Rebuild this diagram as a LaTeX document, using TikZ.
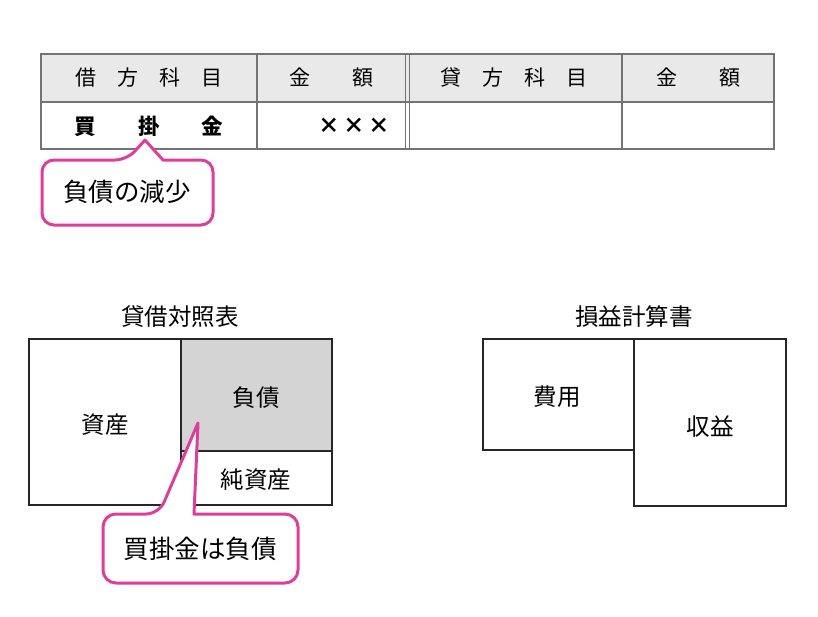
\documentclass[tikz,border=0pt]{standalone}
\usepackage{fontspec}
\setmainfont{Noto Sans CJK JP}
\usetikzlibrary{positioning}
\definecolor{callpink}{RGB}{222,62,155}
\definecolor{headgray}{RGB}{233,233,233}
\definecolor{liabgray}{RGB}{212,212,212}
\definecolor{rulegray}{RGB}{115,115,115}

\begin{document}
\begin{tikzpicture}[x=1pt,y=-1pt,
 cell/.style={draw=rulegray,line width=1.3pt},
 head/.style={font=\fontsize{21}{21}\selectfont,inner sep=0pt},
 entry/.style={font=\fontsize{21.5}{21.5}\selectfont\bfseries,inner sep=0pt},
 boxline/.style={draw=black!85,line width=1.5pt},
 lbl/.style={font=\fontsize{23.5}{23.5}\selectfont,inner sep=0pt},
 callout/.style={draw=callpink,line width=3pt,fill=white,line join=round},
 calltext/.style={font=\fontsize{25.5}{25.5}\selectfont,inner sep=0pt}]

\useasboundingbox (0,0) rectangle (818,616);

% journal entry
\fill[headgray] (41,54) rectangle (774,102);
\draw[cell] (41,54) rectangle (774,149);
\draw[cell] (41,102) -- (774,102);
\draw[cell] (257,54) -- (257,149);
\draw[cell,line width=1pt] (405,54) -- (405,149);
\draw[cell,line width=1pt] (409,54) -- (409,149);
\draw[cell] (622,54) -- (622,149);

\node[head] (drhead) at (149,78) {借\hskip21pt方\hskip21pt科\hskip21pt目};
\node[head] (dramt) at (331,78) {金\hskip42pt額};
\node[head] (crhead) at (514,78) {貸\hskip21pt方\hskip21pt科\hskip21pt目};
\node[head] (cramt) at (698,78) {金\hskip42pt額};

\node[entry] (payable) at (149,126) {買\hskip42pt掛\hskip42pt金};
\node[entry,anchor=east] (amount) at (390,126) {×\,×\,×};

% callout under the entry
\coordinate (tip1) at (145,140);
\draw[callout] [rounded corners=12pt] (127,160) [sharp corners] -- (tip1) -- (163,160)
  [rounded corners=12pt] -- (213,160) -- (213,225) -- (42,225) -- (42,160) -- cycle;
\node[calltext] (decrease) at (127,192) {負債の減少};

% balance sheet
\node[lbl] (bstitle) at (180,317) {貸借対照表};
\fill[liabgray] (181,339) rectangle (332,451);
\draw[boxline] (29,339) rectangle (332,505);
\draw[boxline] (181,339) -- (181,505);
\draw[boxline] (181,451) -- (332,451);
\node[lbl] (asset) at (105,425) {資産};
\node[lbl] (liab) at (256,398) {負債};
\node[lbl] (equity) at (256,480) {純資産};

\coordinate (tip2) at (198,423);
\draw[callout] [rounded corners=13pt] (159,514) [sharp corners] -- (tip2) -- (194,514)
  [rounded corners=13pt] -- (298,514) -- (298,583) -- (103,583) -- (103,514) -- cycle;
\node[calltext] (apliab) at (200,549) {買掛金は負債};

% income statement
\node[lbl] (istitle) at (634,317) {損益計算書};
\draw[boxline] (483,339) rectangle (634,450);
\draw[boxline] (634,339) rectangle (786,506);
\node[lbl] (cost) at (557,397) {費用};
\node[lbl] (revenue) at (710,427) {収益};

\end{tikzpicture}
\end{document}
